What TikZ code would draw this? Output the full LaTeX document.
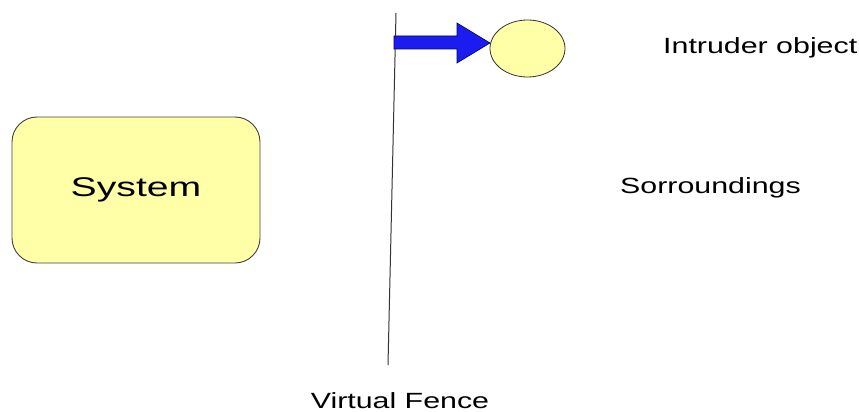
\documentclass[tikz,border=0pt]{standalone}
\usepackage{fontspec}
\setmainfont{Liberation Sans}
\usetikzlibrary{shapes.geometric}

\definecolor{paleyellow}{RGB}{255,255,168}
\definecolor{arrowblue}{RGB}{28,28,240}

% wide lettering, stretched sideways
\newcommand{\widetext}[2][1.38]{\scalebox{#1}[1]{#2}}

\begin{document}
\begin{tikzpicture}[x=1pt,y=-1pt,
    label/.style={inner sep=0pt, font=\fontsize{22}{26}\selectfont}]
\useasboundingbox (0,0) rectangle (859,412);

% the system block
\node[draw=black!75, line width=0.9pt, fill=paleyellow, rounded corners=25pt,
      minimum width=248pt, minimum height=146pt, inner sep=0pt] (system) at (136,190)
      {\fontsize{27}{32}\selectfont\widetext[1.45]{System}};

% the fence
\coordinate (fencetop) at (396,13);
\coordinate (fencebottom) at (388,365);
\draw[line width=1pt, black!80] (fencetop) -- (fencebottom);

% intruder and the block arrow
\node[ellipse, draw=black!80, line width=0.8pt, fill=paleyellow,
      minimum width=75pt, minimum height=57pt, inner sep=0pt] (intruder) at (527.5,48.5) {};
\coordinate (tip) at (490,43);
\draw[fill=arrowblue, draw=blue!40!black, line width=0.6pt]
    (394,36) -- (457,36) -- (457,23) -- (tip) -- (457,63) -- (457,49) -- (394,49) -- cycle;

% labels
\node[label, anchor=west] (intruderlabel) at (663,48) {\widetext{Intruder object}};
\node[label, anchor=west] (surroundings) at (620,188) {\widetext{Sorroundings}};
\node[label] (fencelabel) at (400,401) {\widetext{Virtual Fence}};
\end{tikzpicture}
\end{document}
